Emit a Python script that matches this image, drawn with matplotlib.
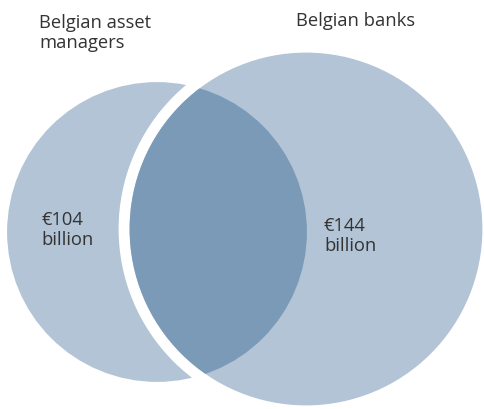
import numpy as np
import matplotlib
matplotlib.use("Agg")
import matplotlib.pyplot as plt
from matplotlib.patches import Circle

# Holdings in EUR billion
groups = ["Belgian asset\nmanagers", "Belgian banks"]
values = [104, 144]
value_labels = ["€104\nbillion", "€144\nbillion"]

light = "#b3c4d6"
dark = "#7b9ab7"
text_col = "#333333"

plt.rcParams["font.family"] = ["Open Sans", "DejaVu Sans"]

fig = plt.figure(figsize=(4.84, 4.10), dpi=100)
ax = fig.add_axes([0, 0, 1, 1])
ax.set_xlim(0, 484)
ax.set_ylim(410, 0)
ax.set_aspect("equal")
ax.axis("off")

# radius proportional to sqrt(value) so area matches the amount
scale = 14.7
radii = [scale * np.sqrt(v) for v in values]
centers = [(157, 233), (306, 230)]

left = Circle(centers[0], radii[0], color=light, lw=0)
ax.add_patch(left)
# white gap around the banks circle
ax.add_patch(Circle(centers[1], radii[1] + 11, color="white", lw=0))
right = Circle(centers[1], radii[1], color=light, lw=0)
ax.add_patch(right)
overlap = Circle(centers[0], radii[0], color=dark, lw=0)
ax.add_patch(overlap)
overlap.set_clip_path(right)

fs = 13.2
ax.text(39, 33, groups[0], fontsize=fs, color=text_col, ha="left", va="center",
        linespacing=1.1)
ax.text(356, 21, groups[1], fontsize=fs, color=text_col, ha="center", va="center")
ax.text(41, 230, value_labels[0], fontsize=fs, color=text_col, ha="left", va="center",
        linespacing=1.1)
ax.text(324, 236, value_labels[1], fontsize=fs, color=text_col, ha="left", va="center",
        linespacing=1.1)

fig.savefig("out.png", dpi=100)
